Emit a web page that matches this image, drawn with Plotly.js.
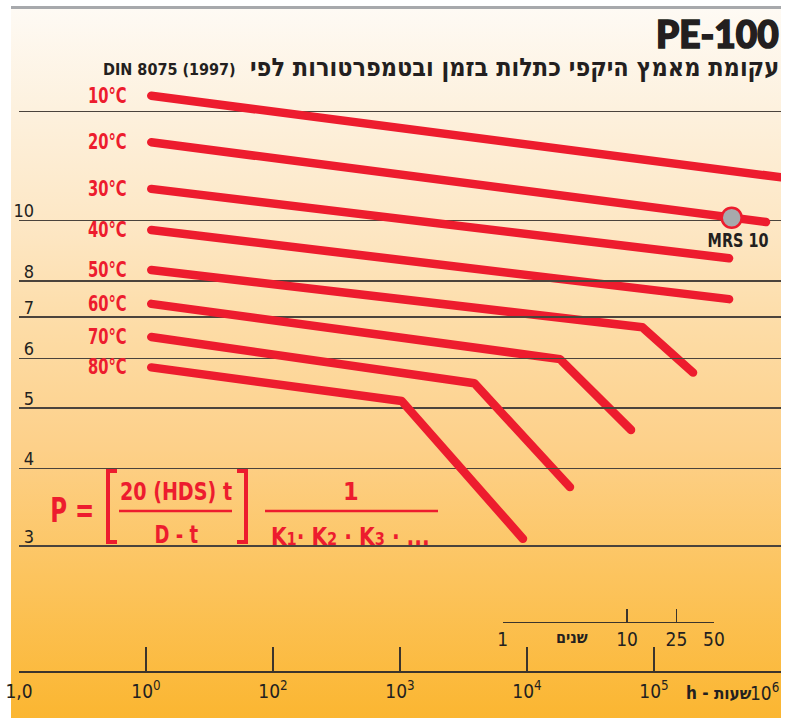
<!DOCTYPE html>
<html><head><meta charset="utf-8">
<script src="https://cdn.plot.ly/plotly-3.0.1.min.js"></script>
<style>
html,body{margin:0;padding:0;background:#fff;overflow:hidden;}
#bg{position:absolute;left:11px;top:9px;width:770px;height:709px;
 background:linear-gradient(to bottom,#fefaf4 0%,#fdf1de 14%,#fde6c2 32%,#fddca6 45%,#fdd089 62%,#fcc45e 80%,#fbb631 100%);}
#topline{position:absolute;left:11px;top:6px;width:770px;height:3px;background:#a7a9ac;}
#chart{position:absolute;left:0;top:0;width:797px;height:718px;}
path.js-line{stroke-linecap:round;stroke-linejoin:round;}
g.annotation[data-index="9"] text{stroke:#231f20;stroke-width:1.6px;paint-order:stroke;}
/* condensed look for the labels that the print sets in a narrow face */
g.annotation[data-index="0"] text, g.annotation[data-index="1"] text, g.annotation[data-index="2"] text,
g.annotation[data-index="3"] text, g.annotation[data-index="4"] text, g.annotation[data-index="5"] text,
g.annotation[data-index="6"] text, g.annotation[data-index="7"] text
 {transform-box:fill-box;transform-origin:right center;transform:scaleX(0.78);}
g.annotation[data-index="8"] text{transform-box:fill-box;transform-origin:center center;transform:scaleX(0.8);}
g.annotation[data-index="15"] text{transform-box:fill-box;transform-origin:center center;transform:scaleX(0.75);}
g.annotation[data-index="16"] text{transform-box:fill-box;transform-origin:center center;transform:scaleX(0.85);}
g.annotation[data-index="17"] text{transform-box:fill-box;transform-origin:center center;transform:scaleX(0.8);}
g.annotation[data-index="19"] text{transform-box:fill-box;transform-origin:center center;transform:scaleX(0.9);}
</style></head><body>
<div id="bg"></div><div id="topline"></div><div id="chart"></div>
<script>
// ---- data (hours, MPa) ----
const temperatures = ["10°C","20°C","30°C","40°C","50°C","60°C","70°C","80°C"];
const h10 = [11, 1e6];            const s10 = [15.88, 11.74];
const h20 = [11, 7.62e5];         const s20 = [13.37, 9.95];
const h30 = [11, 3.9e5];          const s30 = [11.25, 8.70];
const h40 = [11, 3.9e5];          const s40 = [9.66, 7.48];
const h50 = [11, 8.09e4, 2.03e5]; const s50 = [8.33, 6.74, 5.70];
const h60 = [11, 1.82e4, 6.59e4]; const s60 = [7.35, 5.99, 4.61];
const h70 = [11, 3846, 2.18e4];   const s70 = [6.50, 5.48, 3.73];
const h80 = [11, 1031, 9300];     const s80 = [5.81, 5.13, 3.08];
const mrsHours = [4.09e5];        const mrsStress = [10.11];
const mrsLabel = "MRS 10";

const hourTicks = [1, 10, 100, 1e3, 1e4, 1e5, 1e6];
const hourTickText = ["1,0","10<sup>0</sup>","10<sup>2</sup>","10<sup>3</sup>","10<sup>4</sup>","10<sup>5</sup>"," "];
const yearTicks = [1, 10, 25, 50];
const yearTickText = ["1","10","25","50"];
const stressTicks = [3,4,5,6,7,8,10,15];
const stressTickText = ["3","4","5","6","7","8","10"," "];

const seriesH = [h10,h20,h30,h40,h50,h60,h70,h80];
const seriesS = [s10,s20,s30,s40,s50,s60,s70,s80];

const RED = "#ed1c2e", INK = "#231f20", AX = "#3b342c";
const NARROW = "'DejaVu Sans Condensed',sans-serif";
const HEB = "'DejaVu Sans Condensed',sans-serif";

const traces = seriesH.map((hx,i)=>({
  x: hx, y: seriesS[i], mode:"lines", type:"scatter",
  line:{color:RED, width:8.5}, hoverinfo:"skip", name: temperatures[i]
}));
traces.push({x: mrsHours, y: mrsStress, mode:"markers", type:"scatter",
  marker:{size:20, color:"#a7a9ac", line:{color:RED, width:2.5}}, hoverinfo:"skip"});
traces.push({x:[], y:[], xaxis:"x2", yaxis:"y", type:"scatter", mode:"lines", hoverinfo:"skip"});

const ann = [];
seriesH.forEach((hx,i)=>{
  ann.push({xref:"x", yref:"y", x:Math.log10(hx[0]), y:Math.log10(seriesS[i][0]),
    text:temperatures[i], showarrow:false, xanchor:"right", yanchor:"middle", xshift:-22,
    font:{family:NARROW, size:21, color:RED, weight:700}});
});
ann.push({xref:"x", yref:"y", x:Math.log10(mrsHours[0]), y:Math.log10(mrsStress[0]),
  text:mrsLabel, showarrow:false, xanchor:"center", yanchor:"middle", xshift:6, yshift:-22,
  font:{family:NARROW, size:20, color:INK, weight:700}});
// titles (index 9 = PE-100)
ann.push({xref:"paper", yref:"paper", x:1, y:0.9637, text:"PE-100", showarrow:false,
  xanchor:"right", yanchor:"middle", font:{family:"Lato, 'DejaVu Sans'", size:37, color:INK, weight:900}});
ann.push({xref:"paper", yref:"paper", x:1, y:0.9123, text:"עקומת מאמץ היקפי כתלות בזמן ובטמפרטורות לפי", showarrow:false,
  xanchor:"right", yanchor:"middle", font:{family:HEB, size:25, color:INK, weight:700}});
ann.push({xref:"paper", yref:"paper", x:(238-19)/762, y:0.9093, text:"DIN 8075 (1997)", showarrow:false,
  xanchor:"right", yanchor:"middle", font:{family:NARROW, size:16, color:INK, weight:700}});
// axis captions
ann.push({xref:"paper", yref:"paper", x:(572-19)/762, y:(671-637)/661, text:"שנים", showarrow:false,
  xanchor:"center", yanchor:"middle", font:{family:HEB, size:16, color:INK, weight:700}});
ann.push({xref:"paper", yref:"paper", x:(719-19)/762, y:(671-693)/661, text:"h - שעות", showarrow:false,
  xanchor:"center", yanchor:"middle", font:{family:HEB, size:17, color:INK, weight:700}});
ann.push({xref:"paper", yref:"paper", x:1, y:(671-692)/661, text:"10<sup>6</sup>", showarrow:false,
  xanchor:"right", yanchor:"middle", font:{family:NARROW, size:19, color:INK}});
// formula (indices 15..19)
const px = v=>(v-19)/762, py = v=>(671-v)/661;
const FF = {family:NARROW, color:RED, weight:700};
ann.push({xref:"paper", yref:"paper", x:px(72), y:py(510), text:"P =", showarrow:false, xanchor:"center", yanchor:"middle", font:Object.assign({size:34},FF)});
ann.push({xref:"paper", yref:"paper", x:px(176), y:py(491), text:"20 (HDS) t", showarrow:false, xanchor:"center", yanchor:"middle", font:Object.assign({size:25},FF)});
ann.push({xref:"paper", yref:"paper", x:px(176.5), y:py(534), text:"D - t", showarrow:false, xanchor:"center", yanchor:"middle", font:Object.assign({size:25},FF)});
ann.push({xref:"paper", yref:"paper", x:px(351), y:py(491), text:"1", showarrow:false, xanchor:"center", yanchor:"middle", font:Object.assign({size:25},FF)});
ann.push({xref:"paper", yref:"paper", x:px(350), y:py(536), text:"K<span style='font-size:18px'>1</span>· K<span style='font-size:18px'>2</span> · K<span style='font-size:18px'>3</span> · ...", showarrow:false, xanchor:"center", yanchor:"middle", font:Object.assign({size:25},FF)});

const shapes = [
  {type:"line", xref:"paper", yref:"paper", x0:px(119), x1:px(232), y0:py(511), y1:py(511), line:{color:RED, width:2.5}},
  {type:"line", xref:"paper", yref:"paper", x0:px(265), x1:px(438), y0:py(511), y1:py(511), line:{color:RED, width:2.5}},
  {type:"path", xref:"paper", yref:"paper", path:`M ${px(117)} ${py(471)} L ${px(108)} ${py(471)} L ${px(108)} ${py(542)} L ${px(117)} ${py(542)}`, line:{color:RED, width:4}},
  {type:"path", xref:"paper", yref:"paper", path:`M ${px(237)} ${py(471)} L ${px(246)} ${py(471)} L ${px(246)} ${py(542)} L ${px(237)} ${py(542)}`, line:{color:RED, width:4}}
];

const layout = {
  width:797, height:718, margin:{l:19, r:16, t:10, b:47},
  paper_bgcolor:"rgba(0,0,0,0)", plot_bgcolor:"rgba(0,0,0,0)", showlegend:false,
  xaxis:{type:"log", range:[0,6], tickvals:hourTicks, ticktext:hourTickText,
    ticks:"inside", ticklen:24, tickwidth:1.3, tickcolor:AX, showline:true, linecolor:AX, linewidth:1.5,
    showgrid:false, zeroline:false, ticklabelstandoff:3, tickfont:{family:NARROW, size:19, color:INK}},
  xaxis2:{type:"log", range:[0, Math.log10(50)], domain:[px(502.7), px(713.9)], anchor:"free", position:(671-621.7)/661,
    side:"bottom", tickvals:yearTicks, ticktext:yearTickText, ticks:"inside", ticklen:13, tickwidth:1.3, tickcolor:AX,
    showline:true, linecolor:AX, linewidth:1.3, showgrid:false, zeroline:false, tickfont:{family:NARROW, size:19, color:INK}},
  yaxis:{type:"log", range:[0.27605, 1.33875], tickvals:stressTicks, ticktext:stressTickText,
    showgrid:true, gridcolor:"#4a433c", gridwidth:1.3, zeroline:false, showline:false, ticks:"",
    ticklabelposition:"outside top", ticklabelstandoff:-16, ticklabelshift:3, tickfont:{family:NARROW, size:18, color:INK}},
  annotations:ann, shapes:shapes
};
Plotly.newPlot("chart", traces, layout, {displayModeBar:false, staticPlot:true});
</script></body></html>
